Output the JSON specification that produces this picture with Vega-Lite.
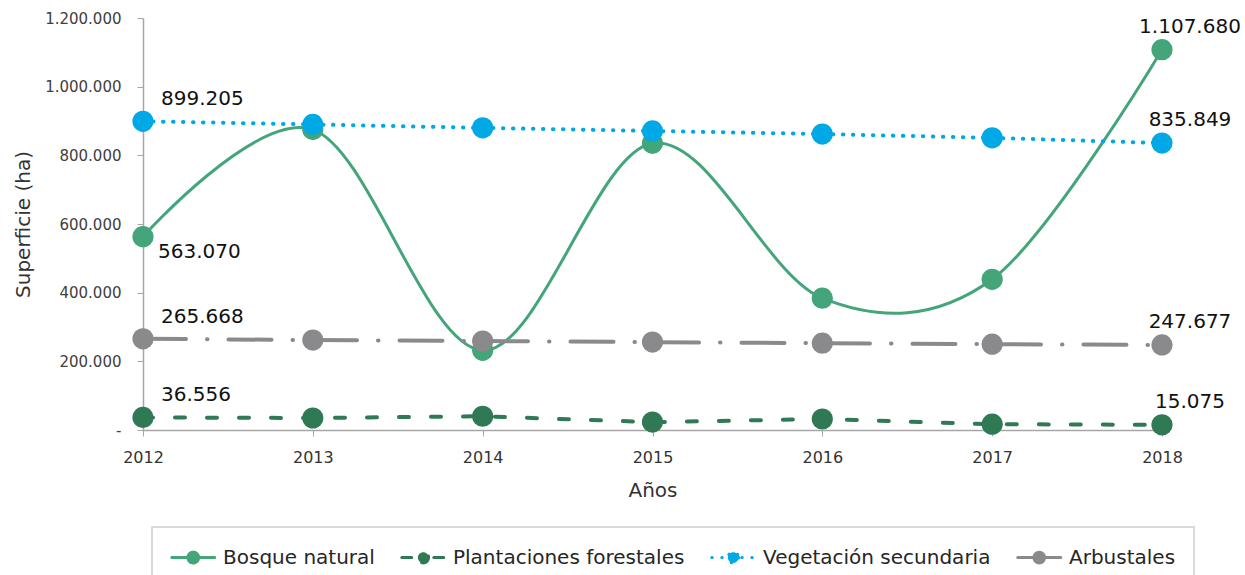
{
  "$schema": "https://vega.github.io/schema/vega-lite/v6.json",
  "width": 1019,
  "height": 412,
  "autosize": {"type": "none"},
  "padding": {"left": 143, "top": 18, "right": 83, "bottom": 145},
  "background": "white",
  "config": {
    "locale": {"number": {"decimal": ",", "thousands": ".", "grouping": [3], "currency": ["$", ""]}},
    "view": {"stroke": null},
    "font": "DejaVu Sans"
  },
  "data": {
    "values": [
      {"series": "Bosque natural", "year": "2012", "value": 563070},
      {"series": "Bosque natural", "year": "2013", "value": 875000},
      {"series": "Bosque natural", "year": "2014", "value": 232000},
      {"series": "Bosque natural", "year": "2015", "value": 835000},
      {"series": "Bosque natural", "year": "2016", "value": 384000},
      {"series": "Bosque natural", "year": "2017", "value": 439000},
      {"series": "Bosque natural", "year": "2018", "value": 1107680},
      {"series": "Plantaciones forestales", "year": "2012", "value": 36556},
      {"series": "Plantaciones forestales", "year": "2013", "value": 35000},
      {"series": "Plantaciones forestales", "year": "2014", "value": 40000},
      {"series": "Plantaciones forestales", "year": "2015", "value": 23000},
      {"series": "Plantaciones forestales", "year": "2016", "value": 32000},
      {"series": "Plantaciones forestales", "year": "2017", "value": 17000},
      {"series": "Plantaciones forestales", "year": "2018", "value": 15075},
      {"series": "Vegetación secundaria", "year": "2012", "value": 899205},
      {"series": "Vegetación secundaria", "year": "2013", "value": 890000},
      {"series": "Vegetación secundaria", "year": "2014", "value": 880000},
      {"series": "Vegetación secundaria", "year": "2015", "value": 871000},
      {"series": "Vegetación secundaria", "year": "2016", "value": 862000},
      {"series": "Vegetación secundaria", "year": "2017", "value": 851000},
      {"series": "Vegetación secundaria", "year": "2018", "value": 835849},
      {"series": "Arbustales", "year": "2012", "value": 265668},
      {"series": "Arbustales", "year": "2013", "value": 262000},
      {"series": "Arbustales", "year": "2014", "value": 259000},
      {"series": "Arbustales", "year": "2015", "value": 256000},
      {"series": "Arbustales", "year": "2016", "value": 253000},
      {"series": "Arbustales", "year": "2017", "value": 250000},
      {"series": "Arbustales", "year": "2018", "value": 247677}
    ]
  },
  "encoding": {
    "x": {
      "field": "year", "type": "ordinal",
      "scale": {"type": "point", "padding": 0},
      "axis": {
        "title": "Años", "titleFontSize": 20, "titleFontWeight": "normal", "titleColor": "#333333", "titlePadding": 15,
        "labelAngle": 0, "labelFontSize": 16, "labelColor": "#333333", "labelPadding": 13,
        "tickSize": 6, "tickColor": "#A6A6A6", "domainColor": "#A6A6A6", "domainWidth": 1.5, "grid": false
      }
    },
    "y": {
      "field": "value", "type": "quantitative",
      "scale": {"domain": [0, 1200000]},
      "axis": {
        "title": "Superficie (ha)", "titleFontSize": 20, "titleFontWeight": "normal", "titleColor": "#333333", "titlePadding": 11,
        "values": [0, 200000, 400000, 600000, 800000, 1000000, 1200000],
        "format": ",.0f", "labelExpr": "datum.value == 0 ? '-' : datum.label",
        "labelFontSize": 15, "labelColor": "#404040", "labelPadding": 16,
        "tickSize": 6, "tickColor": "#A6A6A6", "domainColor": "#A6A6A6", "domainWidth": 1.5, "grid": false
      }
    },
    "color": {
      "field": "series", "type": "nominal",
      "scale": {
        "domain": ["Bosque natural", "Plantaciones forestales", "Vegetación secundaria", "Arbustales"],
        "range": ["#45A57A", "#2F7A55", "#00A9E6", "#8A8A8C"]
      },
      "legend": {
        "orient": "none", "legendX": 9, "legendY": 509, "direction": "horizontal", "columns": 4,
        "title": null, "padding": 18, "strokeColor": "#D9D9D9",
        "labelFont": "DejaVu Sans", "labelFontSize": 20, "labelColor": "#262626", "labelOffset": 28, "labelLimit": 400, "columnPadding": 20,
        "symbolSize": 462, "symbolStrokeWidth": 3,
        "encode": {
          "legend": {"update": {"strokeWidth": {"value": 2}}},
          "symbols": {
            "update": {
              "shape": {"value": "M-1,0H3M1.5,0A0.5,0.5,0,1,1,0.5,0A0.5,0.5,0,1,1,1.5,0Z"},
              "size": {"value": 462},
              "fill": {"scale": "color", "field": "value"},
              "stroke": {"scale": "color", "field": "value"},
              "strokeWidth": {"value": 3},
              "strokeCap": {"value": "round"},
              "opacity": {"value": 1}
            }
          }
        }
      }
    }
  },
  "layer": [
    {
      "transform": [{"filter": "datum.series == 'Bosque natural'"}],
      "mark": {"type": "line", "interpolate": "cardinal", "strokeWidth": 3}
    },
    {
      "transform": [{"filter": "datum.series != 'Bosque natural'"}],
      "mark": {"type": "line", "strokeWidth": 4, "strokeCap": "round"},
      "encoding": {
        "strokeDash": {
          "field": "series", "type": "nominal",
          "scale": {
            "domain": ["Bosque natural", "Plantaciones forestales", "Vegetación secundaria", "Arbustales"],
            "range": [[1, 0], [10, 22], [0.5, 9.5], [43, 21, 0.5, 21]]
          }
        }
      }
    },
    {
      "mark": {"type": "point", "filled": true, "size": 450, "opacity": 1}
    },
    {
      "transform": [{"filter": "datum.year == '2012' && datum.series != 'Bosque natural'"}],
      "mark": {"type": "text", "align": "left", "baseline": "middle", "dx": 18, "dy": -22, "fontSize": 20},
      "encoding": {"text": {"field": "value", "type": "quantitative", "format": ",.0f"}, "color": {"value": "#111111"}}
    },
    {
      "transform": [{"filter": "datum.year == '2012' && datum.series == 'Bosque natural'"}],
      "mark": {"type": "text", "align": "left", "baseline": "middle", "dx": 15, "dy": 15, "fontSize": 20},
      "encoding": {"text": {"field": "value", "type": "quantitative", "format": ",.0f"}, "color": {"value": "#111111"}}
    },
    {
      "transform": [{"filter": "datum.year == '2018'"}],
      "mark": {"type": "text", "align": "center", "baseline": "middle", "dx": 28, "dy": -23, "fontSize": 20},
      "encoding": {"text": {"field": "value", "type": "quantitative", "format": ",.0f"}, "color": {"value": "#111111"}}
    }
  ]
}
